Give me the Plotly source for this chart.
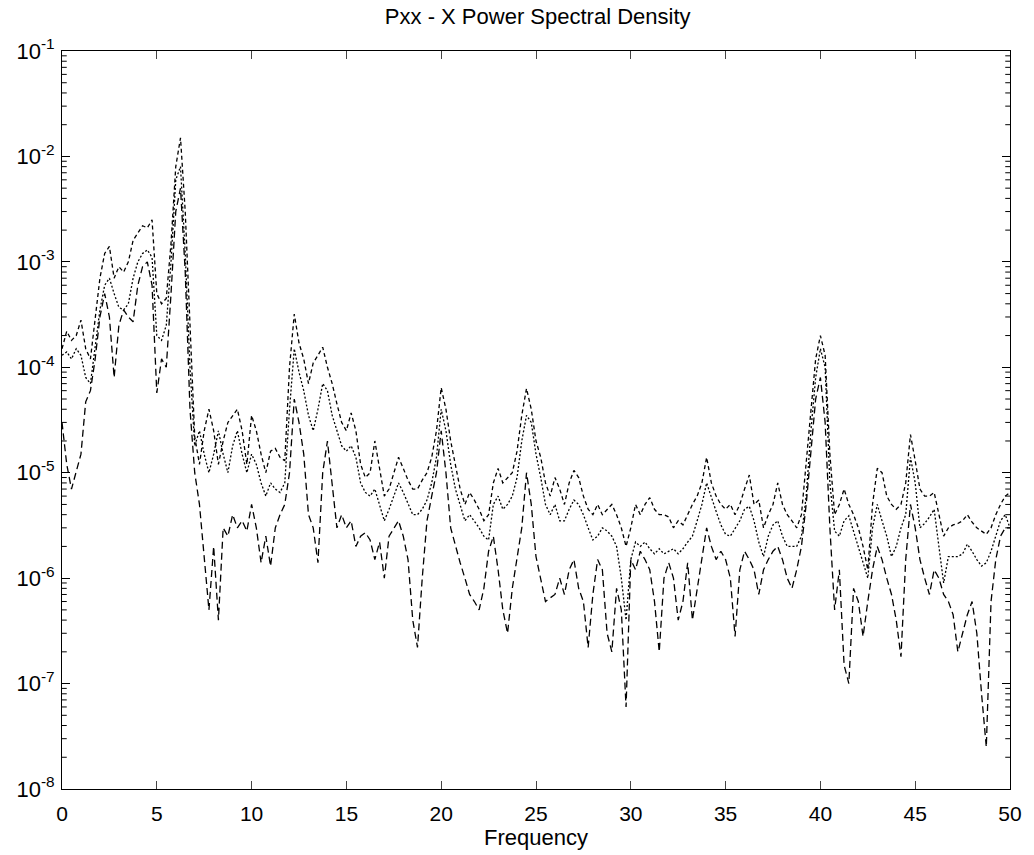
import numpy as np
import plotly.graph_objects as go

# Frequency axis (Hz), 0.25 Hz spacing
freq = np.arange(0, 50.0001, 0.25)

# Upper spectrum estimate
pxx_a = [
    1.5e-4, 2.2e-4, 1.8e-4, 2e-4, 2.8e-4, 1.5e-4, 1.2e-4, 3e-4, 7e-4, 1.2e-3,
    1.4e-3, 7e-4, 9e-4, 8e-4, 1e-3, 1.6e-3, 1.9e-3, 2.2e-3, 2.1e-3, 2.5e-3,
    5e-4, 4e-4, 4.5e-4, 1.5e-3, 8e-3, 1.5e-2, 3e-3, 2.8e-4, 2.2e-5, 1.2e-5,
    2.5e-5, 4e-5, 2.5e-5, 1.2e-5, 2e-5, 3e-5, 3.5e-5, 4e-5, 2.5e-5, 1.2e-5,
    3.5e-5, 2.5e-5, 1.5e-5, 1e-5, 1.6e-5, 1.7e-5, 1.4e-5, 1.3e-5, 1e-4, 3.2e-4,
    1.7e-4, 1.2e-4, 7e-5, 1.1e-4, 1.3e-4, 1.55e-4, 1e-4, 7e-5, 4.5e-5, 3e-5,
    2.5e-5, 3.7e-5, 2.5e-5, 1.2e-5, 9e-6, 1e-5, 2e-5, 1.1e-5, 6e-6, 7e-6,
    1e-5, 1.4e-5, 1.1e-5, 8.5e-6, 7e-6, 7e-6, 8.5e-6, 1e-5, 1.4e-5, 2.5e-5,
    6.4e-5, 4e-5, 2e-5, 1.2e-5, 7e-6, 5e-6, 6.5e-6, 5.5e-6, 4.5e-6, 3.5e-6,
    4e-6, 8e-6, 1.1e-5, 8e-6, 9e-6, 1e-5, 1.6e-5, 3.5e-5, 6.3e-5, 4e-5,
    2e-5, 1.4e-5, 8e-6, 6e-6, 9e-6, 7e-6, 5e-6, 8e-6, 1.05e-5, 9e-6,
    6e-6, 4.5e-6, 4e-6, 5e-6, 4e-6, 4.5e-6, 5e-6, 4e-6, 3e-6, 2e-6,
    3e-6, 5e-6, 4e-6, 5e-6, 5.8e-6, 4.5e-6, 4e-6, 4e-6, 3.8e-6, 3e-6,
    3.5e-6, 3.2e-6, 4e-6, 5e-6, 6e-6, 8e-6, 1.4e-5, 8e-6, 6e-6, 5e-6,
    4.5e-6, 5e-6, 4e-6, 5e-6, 7e-6, 9.5e-6, 5e-6, 5.5e-6, 3e-6, 4e-6,
    5e-6, 8e-6, 5e-6, 4e-6, 3.5e-6, 3e-6, 4e-6, 1.2e-5, 4e-5, 1.2e-4,
    2e-4, 1.3e-4, 1.5e-5, 4e-6, 5e-6, 7e-6, 5e-6, 4e-6, 3e-6, 2e-6,
    1.2e-6, 5e-6, 1.1e-5, 1e-5, 6e-6, 5e-6, 4.5e-6, 5e-6, 8e-6, 2.3e-5,
    1.3e-5, 7e-6, 6e-6, 6e-6, 6.5e-6, 4e-6, 2.5e-6, 3e-6, 3.2e-6, 3.3e-6,
    3.5e-6, 4e-6, 3.4e-6, 3e-6, 2.8e-6, 2.6e-6, 3e-6, 4e-6, 5e-6, 6e-6,
    6.5e-6,
]

# Middle spectrum estimate
pxx_b = [
    1.3e-4, 1.4e-4, 1.2e-4, 1.5e-4, 1.3e-4, 8e-5, 7e-5, 1.5e-4, 3.5e-4, 6e-4,
    7e-4, 5e-4, 3.7e-4, 3.5e-4, 4e-4, 7e-4, 1e-3, 1.2e-3, 1.3e-3, 1.1e-3,
    2e-4, 1.8e-4, 2.5e-4, 1e-3, 6e-3, 8e-3, 1.2e-3, 1e-4, 1.8e-5, 2.5e-5,
    1.5e-5, 1e-5, 1.5e-5, 2.5e-5, 1.5e-5, 1e-5, 1.8e-5, 2.5e-5, 1.5e-5, 1e-5,
    1.5e-5, 1.2e-5, 8e-6, 6e-6, 8e-6, 7e-6, 6.5e-6, 8e-6, 4e-5, 1.5e-4,
    9e-5, 6e-5, 3.5e-5, 2.5e-5, 4e-5, 7e-5, 6e-5, 3.5e-5, 2.5e-5, 1.8e-5,
    1.6e-5, 1.8e-5, 1.4e-5, 8e-6, 6.5e-6, 6e-6, 7e-6, 5e-6, 3.5e-6, 4.5e-6,
    6e-6, 8e-6, 6.5e-6, 5e-6, 4e-6, 4e-6, 4.5e-6, 5.5e-6, 8e-6, 1.4e-5,
    4e-5, 2.5e-5, 1.2e-5, 7e-6, 5e-6, 3.5e-6, 4e-6, 3.5e-6, 3e-6, 2.5e-6,
    2.3e-6, 5e-6, 6e-6, 4.5e-6, 5e-6, 6e-6, 9e-6, 2e-5, 3.5e-5, 3e-5,
    1.5e-5, 9e-6, 5e-6, 4e-6, 5e-6, 3.5e-6, 3.5e-6, 4.5e-6, 5.5e-6, 5e-6,
    4e-6, 3e-6, 2.3e-6, 2.5e-6, 3e-6, 2.8e-6, 2.5e-6, 2e-6, 1e-6, 4e-7,
    1.5e-6, 2.2e-6, 2e-6, 2.2e-6, 1.9e-6, 1.7e-6, 1.9e-6, 1.7e-6, 1.8e-6, 1.9e-6,
    1.7e-6, 1.9e-6, 2.2e-6, 2.5e-6, 3.5e-6, 5e-6, 8e-6, 6e-6, 4.3e-6, 3.2e-6,
    2.6e-6, 2.5e-6, 3e-6, 3.5e-6, 4.5e-6, 4.8e-6, 3.5e-6, 2.2e-6, 1.6e-6, 2.5e-6,
    3.2e-6, 3.5e-6, 2.5e-6, 2e-6, 2e-6, 2e-6, 2.5e-6, 6e-6, 2.5e-5, 8e-5,
    1.5e-4, 1e-4, 8e-6, 2.8e-6, 2.5e-6, 3.5e-6, 3.9e-6, 2.8e-6, 2e-6, 1.4e-6,
    1e-6, 3e-6, 5e-6, 3.5e-6, 2.5e-6, 1.6e-6, 2e-6, 3e-6, 4e-6, 1.4e-5,
    8e-6, 3e-6, 3.3e-6, 3.8e-6, 4.5e-6, 2e-6, 9e-7, 1.6e-6, 1.6e-6, 1.6e-6,
    1.7e-6, 2.1e-6, 1.8e-6, 1.5e-6, 1.3e-6, 1.4e-6, 1.8e-6, 2.5e-6, 3.5e-6, 4e-6,
    3e-6,
]

# Lower spectrum estimate
pxx_c = [
    3e-5, 1.2e-5, 7e-6, 1e-5, 1.5e-5, 4.7e-5, 6e-5, 1.2e-4, 3e-4, 5e-4,
    3e-4, 8e-5, 2.5e-4, 3.5e-4, 3e-4, 2.7e-4, 6e-4, 9e-4, 1e-3, 6e-4,
    5.7e-5, 1.2e-4, 1e-4, 5e-4, 3e-3, 5e-3, 8e-4, 4e-5, 1e-5, 5e-6,
    1.6e-6, 5e-7, 2e-6, 4e-7, 3e-6, 2.5e-6, 4e-6, 3e-6, 3.5e-6, 2.8e-6,
    5e-6, 3e-6, 1.4e-6, 2.5e-6, 1.3e-6, 3e-6, 4e-6, 5e-6, 1e-5, 5e-5,
    3e-5, 1.5e-5, 4e-6, 3e-6, 1.4e-6, 1e-5, 2e-5, 8e-6, 3e-6, 4e-6,
    3e-6, 3.5e-6, 2e-6, 2.5e-6, 2.7e-6, 2.3e-6, 1.5e-6, 2.2e-6, 1e-6, 2.5e-6,
    3e-6, 3.5e-6, 2.5e-6, 1.5e-6, 4e-7, 2.2e-7, 1e-6, 3.5e-6, 6e-6, 1e-5,
    2.5e-5, 1e-5, 3e-6, 2e-6, 1.4e-6, 1e-6, 7e-7, 6e-7, 5e-7, 8e-7,
    1.8e-6, 2.5e-6, 1.2e-6, 5e-7, 3e-7, 8e-7, 1.5e-6, 3e-6, 1e-5, 5e-6,
    1.6e-6, 1e-6, 6e-7, 6.5e-7, 7e-7, 1e-6, 7e-7, 1.2e-6, 1.5e-6, 8e-7,
    6e-7, 2.2e-7, 7e-7, 1.5e-6, 1.2e-6, 3e-7, 2e-7, 8e-7, 5e-7, 6e-8,
    1.5e-6, 1.2e-6, 1.8e-6, 1.5e-6, 1.2e-6, 6e-7, 2e-7, 1e-6, 1.4e-6, 1e-6,
    4e-7, 6e-7, 1.4e-6, 4e-7, 8e-7, 1.5e-6, 3e-6, 2e-6, 1.5e-6, 1.8e-6,
    1.5e-6, 1e-6, 2.8e-7, 1.2e-6, 1.8e-6, 1.5e-6, 1.2e-6, 7e-7, 1.2e-6, 1.5e-6,
    1.8e-6, 2e-6, 1.5e-6, 1e-6, 8e-7, 1.2e-6, 2e-6, 5e-6, 1.5e-5, 5e-5,
    8e-5, 3e-5, 3e-6, 5e-7, 1.2e-6, 1.5e-7, 1e-7, 8e-7, 6e-7, 2.8e-7,
    6e-7, 1.2e-6, 2e-6, 1.5e-6, 1e-6, 7e-7, 4e-7, 1.8e-7, 1.5e-6, 5e-6,
    3e-6, 1.5e-6, 1e-6, 7e-7, 1.2e-6, 1e-6, 7e-7, 6e-7, 4.5e-7, 2e-7,
    3e-7, 4.5e-7, 6e-7, 3e-7, 8e-8, 2.5e-8, 6e-7, 1.5e-6, 2.5e-6, 3e-6,
    3e-6,
]

y_tick_vals = [1e-8, 1e-7, 1e-6, 1e-5, 1e-4, 1e-3, 1e-2, 1e-1]
y_tick_text = ["10<sup>-8</sup>", "10<sup>-7</sup>", "10<sup>-6</sup>", "10<sup>-5</sup>",
               "10<sup>-4</sup>", "10<sup>-3</sup>", "10<sup>-2</sup>", "10<sup>-1</sup>"]
x_tick_vals = list(range(0, 51, 5))

# Unlabelled log ticks at 2..9 within each decade
y_minor_vals = [m * 10.0 ** e for e in range(-8, -1) for m in range(2, 10)]

font_family = "Liberation Sans, Arial, Helvetica, sans-serif"

fig = go.Figure()
for series, dash in [(pxx_a, "4px,3px"), (pxx_b, "2px,2px"), (pxx_c, "7px,4px")]:
    fig.add_trace(go.Scatter(
        x=freq, y=series, mode="lines",
        line=dict(color="black", width=1.3, dash=dash),
        showlegend=False, hoverinfo="skip",
    ))

# Minor tick marks drawn on both vertical frame edges (paper x, data y)
minor_len = 0.005
for v in y_minor_vals:
    for x0, x1 in [(0, minor_len), (1 - minor_len, 1)]:
        fig.add_shape(type="line", xref="paper", yref="y",
                      x0=x0, x1=x1, y0=v, y1=v,
                      line=dict(color="black", width=1))

fig.update_layout(
    width=1034, height=855,
    margin=dict(l=62, r=21, t=51, b=66),
    paper_bgcolor="white", plot_bgcolor="white",
    font=dict(family=font_family, color="black", size=21),
    title=dict(text="Pxx - X Power Spectral Density", x=0.52, xanchor="center",
               y=0.99, yanchor="top", font=dict(size=22)),
    showlegend=False,
    xaxis=dict(
        range=[0, 50], tickvals=x_tick_vals, ticks="inside", ticklen=8,
        showline=True, linecolor="black", linewidth=1, mirror="ticks",
        showgrid=False, zeroline=False, ticklabelstandoff=6,
        title=dict(text="Frequency", font=dict(size=22), standoff=2),
        tickfont=dict(size=21),
    ),
    yaxis=dict(
        type="log", range=[-8, -1], tickmode="array",
        tickvals=y_tick_vals, ticktext=y_tick_text,
        ticks="inside", ticklen=8, tickcolor="black",
        showline=True, linecolor="black", linewidth=1, mirror="ticks",
        showgrid=False, zeroline=False, tickfont=dict(size=22),
        ticklabelstandoff=2,
    ),
)

fig.write_html("out.html")
